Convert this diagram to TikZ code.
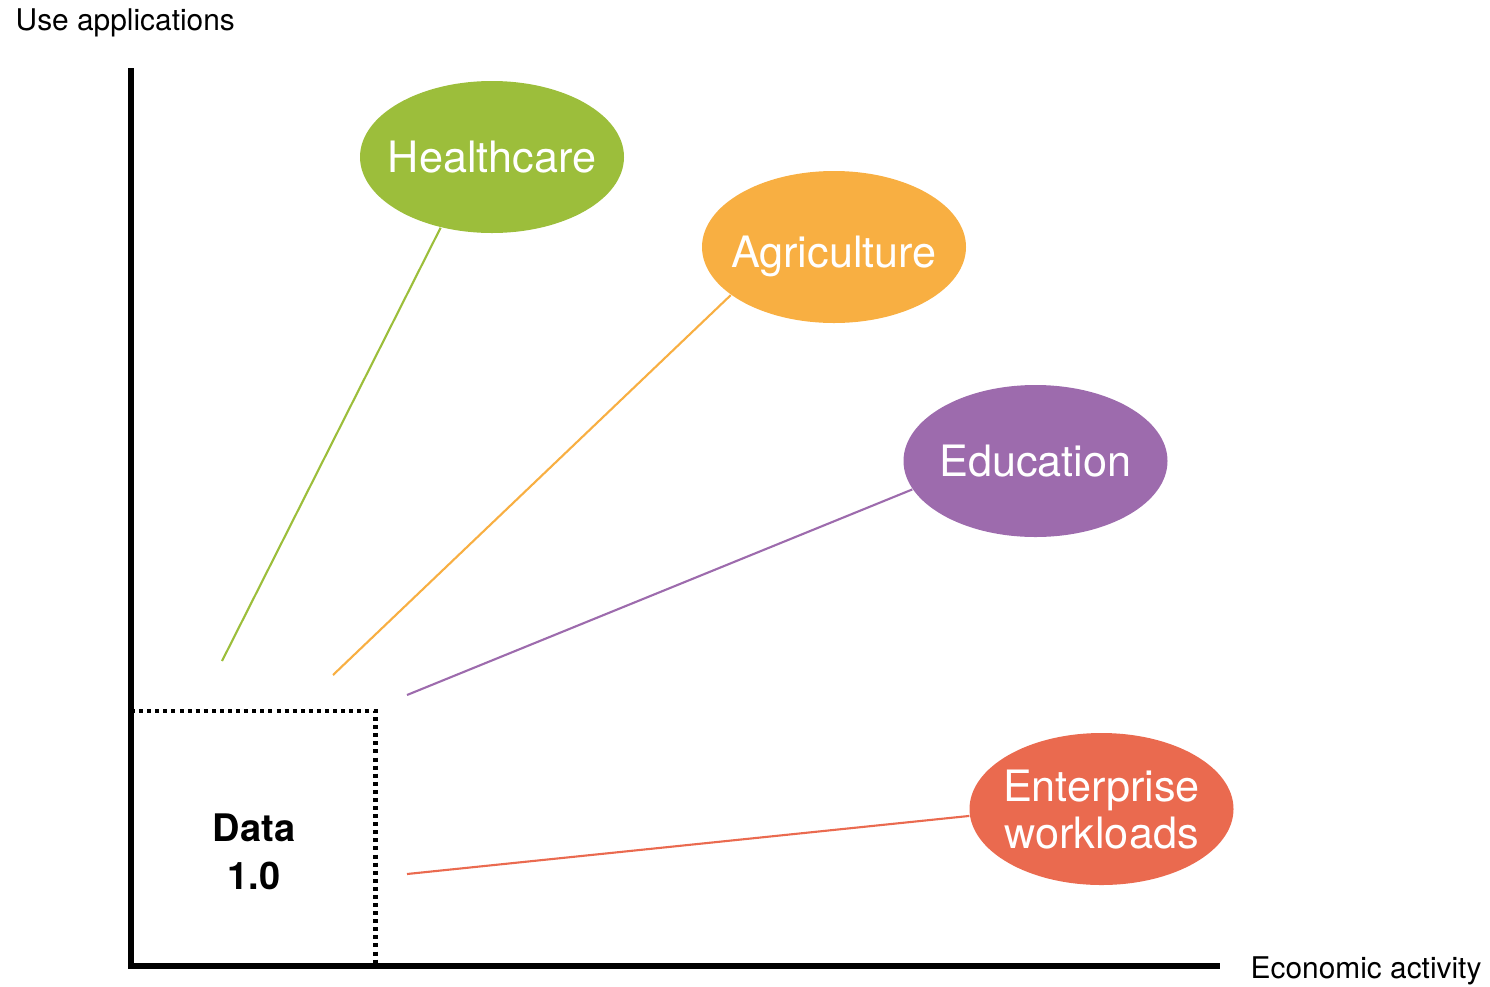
\documentclass[tikz,border=0pt]{standalone}
\usepackage{fontspec}
\setmainfont{TeX Gyre Heros}
\usetikzlibrary{shapes.geometric}
\definecolor{healthcolor}{HTML}{9CBE3B}
\definecolor{agricolor}{HTML}{F8AF42}
\definecolor{educolor}{HTML}{9D6BAD}
\definecolor{entcolor}{HTML}{EA6A4F}

\begin{document}
\begin{tikzpicture}[
  sector/.style={ellipse, minimum width=2.64cm, minimum height=1.52cm, inner sep=-0.2cm,
    text depth=0pt, text=white, align=center, font=\fontsize{12.3}{13.4}\selectfont},
  axislabel/.style={anchor=base west, inner sep=0pt, font=\fontsize{8.5}{10}\selectfont},
  link/.style={line width=0.6pt}]
  \useasboundingbox (0,0) rectangle (14.9,9.86);
  % axes
  \coordinate (O) at (1.31,0.20); \coordinate (T) at (1.31,9.18); \coordinate (R) at (12.20,0.20);
  \draw[line width=1.5pt] (T) -- (O) -- (R);
  \node[axislabel] (ylabel) at (0.15,9.56) {Use applications};
  \node[axislabel] (xlabel) at (12.50,0.08) {Economic activity};
  % data 1.0 corner
  \coordinate (B1) at (1.31,2.75); \coordinate (B2) at (3.755,2.75); \coordinate (B3) at (3.755,0.20);
  \draw[line width=1.2pt, dash pattern=on 1.15pt off 1.15pt] (B1) -- (B2) -- (B3);
  \node[align=center, font=\bfseries\fontsize{10.8}{13.7}\selectfont] (data) at (2.54,1.34) {Data\\1.0};
  % application areas
  \node[sector, fill=healthcolor] (hc) at (4.92,8.29) {Healthcare};
  \node[sector, fill=agricolor, text height=0.41cm] (agri) at (8.34,7.39) {Agriculture};
  \node[sector, fill=educolor] (edu) at (10.355,5.25) {Education};
  \node[sector, fill=entcolor] (ent) at (11.015,1.77) {Enterprise\\workloads};
  % links down to the corner
  \coordinate (hcfoot) at (2.22,3.25); \coordinate (agrifoot) at (3.33,3.11);
  \coordinate (edufoot) at (4.07,2.91); \coordinate (entfoot) at (4.07,1.12);
  \draw[link, healthcolor] (hcfoot) -- (hc.234);
  \draw[link, agricolor] (agrifoot) -- (agri.205);
  \draw[link, educolor] (edufoot) -- (edu.193);
  \draw[link, entcolor] (entfoot) -- (ent.183);
\end{tikzpicture}
\end{document}
